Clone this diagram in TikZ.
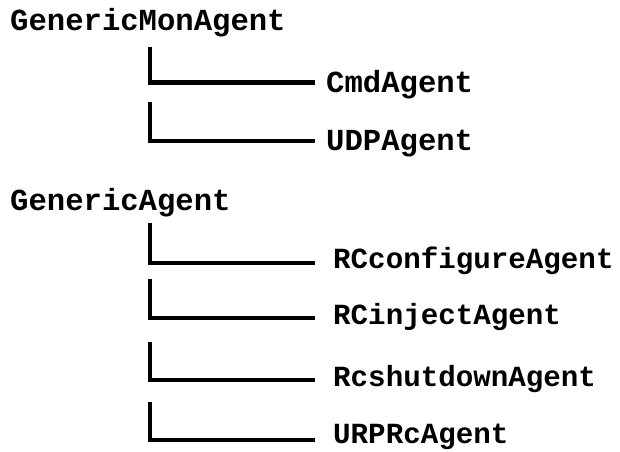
\documentclass[tikz,border=0pt]{standalone}
\usepackage{fontspec}
\setmonofont{Liberation Mono}
\begin{document}
\begin{tikzpicture}[x=1pt,y=1pt,
  labelbase/.style={anchor=west,inner ysep=0pt,text height=16pt,text depth=0pt},
  parent/.style={labelbase,inner xsep=0pt,
    font=\ttfamily\bfseries\fontsize{30.6}{32}\selectfont},
  childA/.style={labelbase,inner xsep=11pt,
    font=\ttfamily\bfseries\fontsize{30.6}{32}\selectfont},
  childB/.style={labelbase,inner xsep=18pt,
    font=\ttfamily\bfseries\fontsize{29.2}{31}\selectfont},
  link/.style={line width=4.6pt,line join=miter,line cap=butt}]
\useasboundingbox (0,0) rectangle (620,-451);

% first tree
\node[parent] (gm) at (10,-22.5) {GenericMonAgent};
\node[childA] (cmd) at (315,-84) {CmdAgent};
\node[childA] (udp) at (315,-142) {UDPAgent};
\coordinate (t1) at (150,-47);
\coordinate (t2) at (150,-102);
\draw[link] (t1) |- ([yshift=1.5pt]cmd.west);
\draw[link] (t2) |- ([yshift=1pt]udp.west);

% second tree
\node[parent] (ga) at (10,-202) {GenericAgent};
\node[childB] (rcc) at (315,-260) {RCconfigureAgent};
\node[childB] (rci) at (315,-316.5) {RCinjectAgent};
\node[childB] (rcs) at (315,-378) {RcshutdownAgent};
\node[childB] (urp) at (315,-435) {URPRcAgent};
\coordinate (t3) at (150,-223);
\coordinate (t4) at (150,-279);
\coordinate (t5) at (150,-342);
\coordinate (t6) at (150,-402);
\draw[link] (t3) |- ([yshift=-3pt]rcc.west);
\draw[link] (t4) |- ([yshift=-1.5pt]rci.west);
\draw[link] (t5) |- ([yshift=-2pt]rcs.west);
\draw[link] (t6) |- ([yshift=-5pt]urp.west);
\end{tikzpicture}
\end{document}
